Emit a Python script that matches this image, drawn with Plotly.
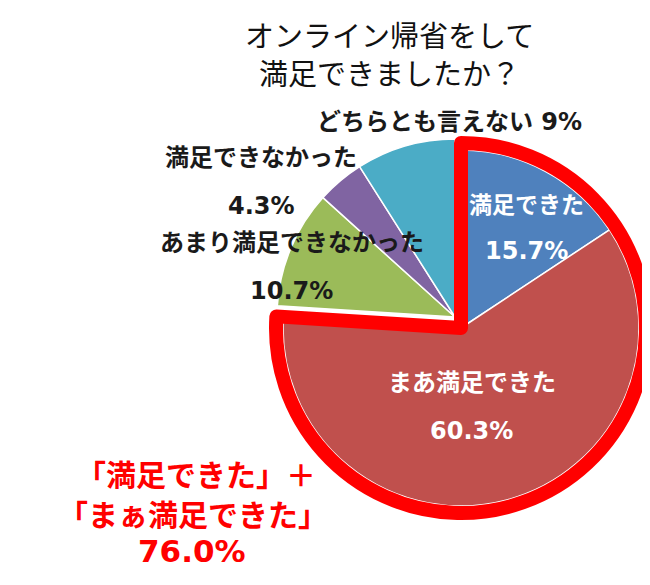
import plotly.graph_objects as go

# --- data -------------------------------------------------------------------
labels = ["満足できた", "まあ満足できた", "あまり満足できなかった", "満足できなかった", "どちらとも言えない"]
values = [15.7, 60.3, 10.7, 4.3, 9.0]
colors = ["#4F81BD", "#C0504D", "#9BBB59", "#8064A2", "#4BACC6"]
label_text = ["満足できた", "まあ満足できた", "あまり満足できなかった", "満足できなかった", "どちらとも言えない"]
pct_text = ["15.7%", "60.3%", "10.7%", "4.3%", "9%"]
title_lines = ["オンライン帰省をして", "満足できましたか？"]
callout_lines = ["「満足できた」＋", "「まぁ満足できた」", "76.0%"]

W, H = 650, 585
satisfied = values[0] + values[1]
rest = sum(values[2:])
CLEAR = "rgba(0,0,0,0)"


def dom(cx, cy, r):
    # pixel centre/radius -> pie domain in paper fractions
    return dict(x=[(cx - r) / W, (cx + r) / W], y=[1 - (cy + r) / H, 1 - (cy - r) / H])


def px(x, y):
    return x / W, 1 - y / H


fig = go.Figure()

# unexploded slices (the two "satisfied" slices are drawn in the shifted trace)
fig.add_trace(go.Pie(
    labels=labels, values=values, sort=False, direction="clockwise", rotation=0,
    marker=dict(colors=[CLEAR, CLEAR] + colors[2:],
                line=dict(color="white", width=[0, 0, 1.5, 1.5, 1.5])),
    textinfo="none", hoverinfo="skip", domain=dom(447, 309, 178),
))

# "satisfied" slices, pulled out as one group
fig.add_trace(go.Pie(
    labels=labels[:2] + ["その他"], values=values[:2] + [rest], sort=False,
    direction="clockwise", rotation=0,
    marker=dict(colors=colors[:2] + [CLEAR], line=dict(color="white", width=[1.5, 1.5, 0])),
    textinfo="none", hoverinfo="skip", domain=dom(453, 320, 178),
))

# red highlight outline around the 76% group
fig.add_trace(go.Pie(
    labels=["満足計", "その他"], values=[satisfied, rest], sort=False,
    direction="clockwise", rotation=0,
    marker=dict(colors=[CLEAR, CLEAR], line=dict(color="#FF0000", width=[14, 0])),
    textinfo="none", hoverinfo="skip", domain=dom(453, 320, 185),
))

LAB_FONT = "DejaVu Sans, Noto Sans CJK JP"
ann = []


def add(text, x, y, size, color, bold=True, family=LAB_FONT):
    xp, yp = px(x, y)
    ann.append(dict(
        text=f"<b>{text}</b>" if bold else text, x=xp, y=yp, xref="paper", yref="paper",
        xanchor="center", yanchor="middle", showarrow=False,
        font=dict(size=size, color=color, family=family),
    ))


# title
add(title_lines[0], 381, 26, 29, "#111111", bold=False, family="Noto Sans CJK JP")
add(title_lines[1], 381, 64, 29, "#111111", bold=False, family="Noto Sans CJK JP")

# slice labels
add(f"{label_text[4]} {pct_text[4]}", 441, 114, 24, "#1a1a1a")
add(label_text[3], 253, 150, 24, "#1a1a1a")
add(pct_text[3], 253, 198, 24, "#1a1a1a")
add(label_text[2], 284, 235, 24, "#1a1a1a")
add(pct_text[2], 283, 283, 24, "#1a1a1a")
add(label_text[0], 518, 197, 23, "white")
add(pct_text[0], 518, 243, 24, "white")
add(label_text[1], 464, 375, 24, "white")
add(pct_text[1], 463, 423, 24, "white")

# red callout
add(callout_lines[0], 188, 467, 30, "#FF0000")
add(callout_lines[1], 185, 507, 30, "#FF0000")
add(callout_lines[2], 184, 543, 31, "#FF0000")

fig.update_layout(
    width=W, height=H,
    margin=dict(l=0, r=0, t=0, b=0),
    paper_bgcolor="white", plot_bgcolor="white",
    showlegend=False,
    annotations=ann,
)

fig.write_html("out.html")
